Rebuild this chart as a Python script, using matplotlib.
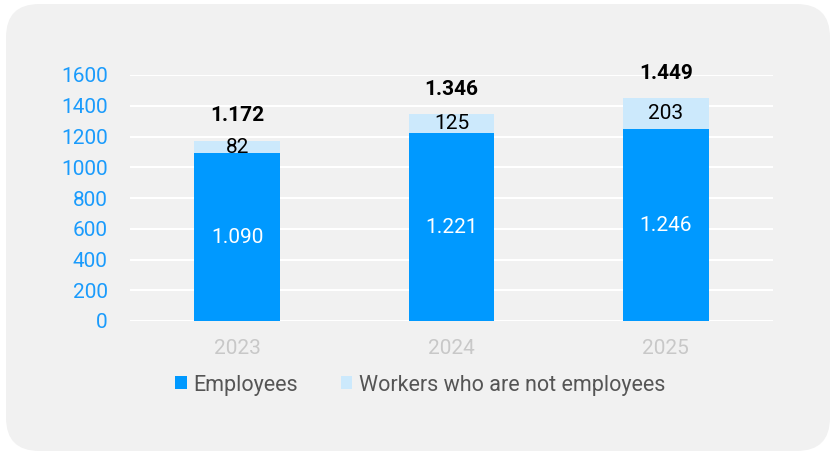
import matplotlib
matplotlib.use("Agg")
import matplotlib.pyplot as plt
from matplotlib.patches import FancyBboxPatch, Patch

# Data
years = ["2023", "2024", "2025"]
employees = [1090, 1221, 1246]
non_employees = [82, 125, 203]
totals = ["1.172", "1.346", "1.449"]
emp_labels = ["1.090", "1.221", "1.246"]
non_labels = ["82", "125", "203"]
yticks = [0, 200, 400, 600, 800, 1000, 1200, 1400, 1600]

plt.rcParams["font.family"] = ["Roboto", "DejaVu Sans"]

blue = "#0099ff"
light = "#cce9fc"
bg = "#f1f1f1"

fig = plt.figure(figsize=(8.32, 4.55), dpi=100, facecolor="white")

# Rounded background panel
panel = FancyBboxPatch(
    (6 / 832, 4 / 455), 824 / 832, 447 / 455,
    boxstyle="round,pad=0,rounding_size=0.04",
    transform=fig.transFigure, facecolor=bg, edgecolor="none",
    mutation_aspect=832 / 455, zorder=-10,
)
fig.patches.append(panel)

ax = fig.add_axes([130 / 832, 1 - 321 / 455, 643 / 832, 246 / 455])
ax.set_facecolor("none")
ax.set_zorder(1)
x = range(len(years))
ax.bar(x, employees, width=0.4, color=blue, zorder=3)
ax.bar(x, non_employees, width=0.4, bottom=employees, color=light, zorder=3)

ax.set_xlim(-0.5, 2.5)
ax.set_ylim(0, 1600)
ax.set_yticks(yticks)
ax.set_xticks(list(x))
ax.set_xticklabels(years)
ax.tick_params(axis="y", length=0, pad=16, labelsize=15, labelcolor="#1a9bfc")
ax.tick_params(axis="x", length=0, pad=13, labelsize=15, labelcolor="#c8c8c8")
ax.grid(axis="y", color="white", linewidth=1.5, zorder=1)
for s in ax.spines.values():
    s.set_visible(False)

for i in x:
    ax.text(i, employees[i] / 2, emp_labels[i], ha="center", va="center",
            color="white", fontsize=15, zorder=4)
    ax.text(i, employees[i] + non_employees[i] / 2, non_labels[i], ha="center",
            va="center", color="black", fontsize=15, zorder=4)
    ax.annotate(totals[i], (i, employees[i] + non_employees[i]),
                xytext=(0, 18), textcoords="offset points", ha="center",
                va="center", fontsize=15, fontweight="bold", color="black",
                annotation_clip=False)

handles = [Patch(facecolor=blue), Patch(facecolor=light)]
fig.legend(handles, ["Employees", "Workers who are not employees"],
           loc="center", bbox_to_anchor=(420 / 832, 1 - 385 / 455), ncol=2,
           frameon=False, fontsize=15.5, labelcolor="#555555",
           handlelength=0.55, handleheight=0.55, handletextpad=0.3,
           columnspacing=2.0)

fig.savefig("out.png", dpi=100, facecolor="white")
